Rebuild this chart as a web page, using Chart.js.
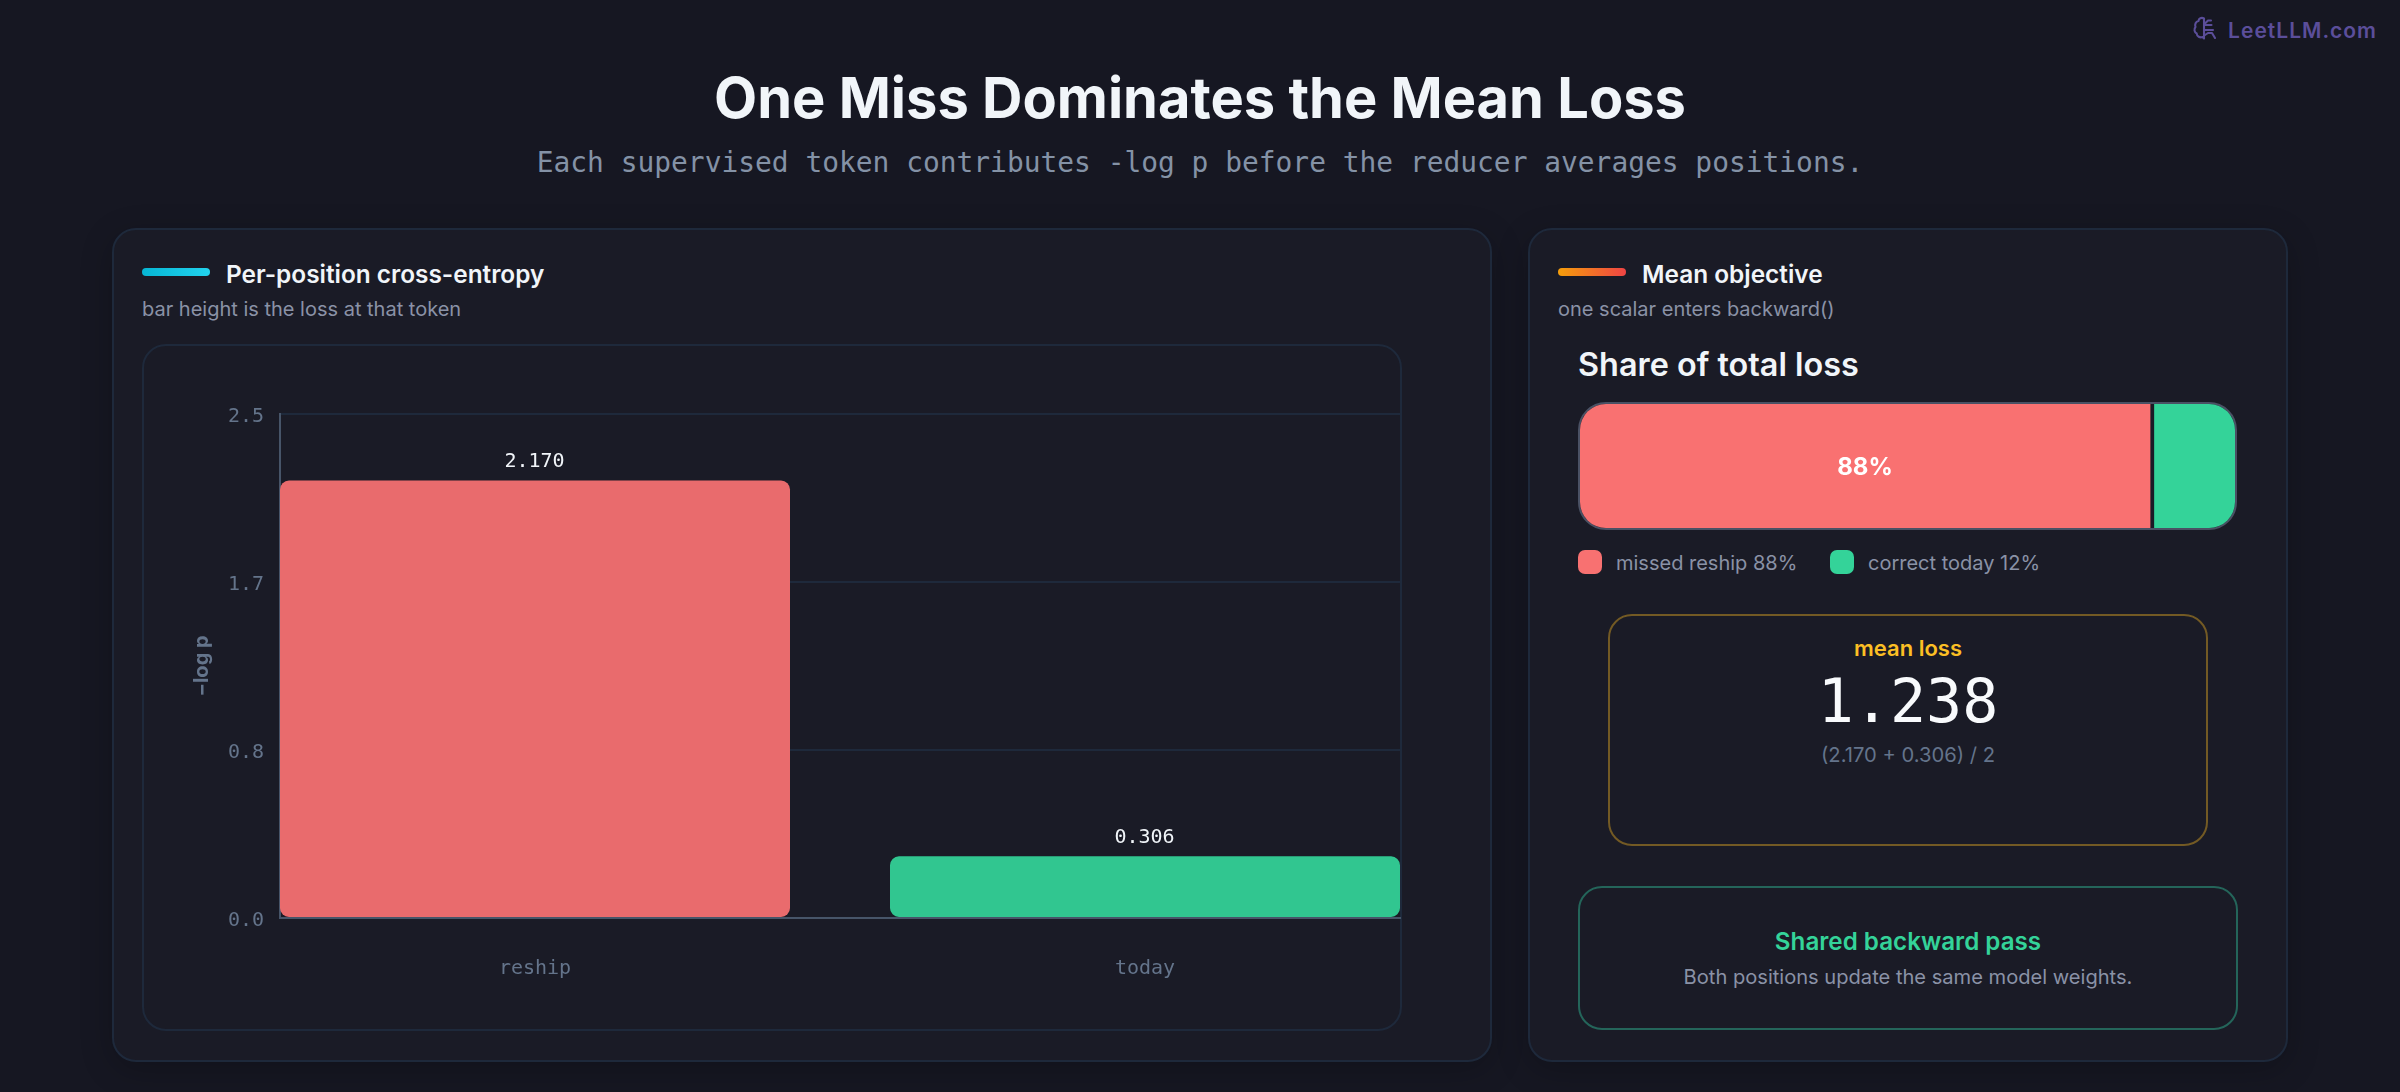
<!DOCTYPE html>
<html><head><meta charset="utf-8">
<script src="https://cdn.jsdelivr.net/npm/chart.js@4/dist/chart.umd.min.js"></script>
<style>
*{box-sizing:border-box;margin:0;padding:0}
html,body{width:2400px;height:1092px;overflow:hidden;background:#161722;font-family:Inter,sans-serif}
.t{position:absolute;white-space:nowrap;line-height:1;transform:translateY(-50%)}
.c{transform:translate(-50%,-50%)}
.box{position:absolute;border-radius:24px;background:#1a1b26;border:2px solid #1e293b}
.panel{box-shadow:0 8px 32px rgba(0,0,0,.22)}
.sw{position:absolute;height:8px;border-radius:4px}
.h{font-weight:600;font-size:24.4px;color:#f1f5f9}
.s{font-size:20px;color:#8a92a6}
canvas{position:absolute;display:block}
</style></head><body>
<svg style="position:absolute;left:2192px;top:16px" width="26" height="26" viewBox="0 0 26 26" fill="none" stroke="#5b4e9a" stroke-width="2.1" stroke-linecap="round" stroke-linejoin="round"><path d="M12 2.500c-2.500-1.500-5.500 0-5.500 2.500-2.800.6-4 3.500-3 6-1.800 2-1.200 5.500 1.200 6.500.2 3 3.300 4.500 5.800 3.500l1.500 1.500V2.500zM13 9h6.500M13 14h8M19 4.500h-3l-3 3M13 19l3-2h4l3 5"/></svg>
<div class="t" style="right:23px;top:30px;font-size:21px;font-weight:600;letter-spacing:1px;color:#5b4e9a">LeetLLM.com</div>
<div class="t c" style="left:1200px;top:98px;font-size:56px;font-weight:700;color:#f1f5f9">One Miss Dominates the Mean Loss</div>
<div class="t c" style="left:1200px;top:163px;font-family:'DejaVu Sans Mono',monospace;font-size:27.9px;color:#8492a6">Each supervised token contributes -log p before the reducer averages positions.</div>

<div class="box panel" style="left:112px;top:228px;width:1380px;height:834px"></div>
<div class="sw" style="left:142px;top:268px;width:68px;background:linear-gradient(90deg,#06b6d4,#22d3ee)"></div>
<div class="t h" style="left:226px;top:274px">Per-position cross-entropy</div>
<div class="t s" style="left:142px;top:309px">bar height is the loss at that token</div>
<div class="box" style="left:142px;top:344px;width:1260px;height:687px"></div>
<canvas id="bars" width="1258" height="685" style="left:143px;top:345px"></canvas>

<div class="box panel" style="left:1528px;top:228px;width:760px;height:834px"></div>
<div class="sw" style="left:1558px;top:268px;width:68px;background:linear-gradient(90deg,#f59e0b,#ef4444)"></div>
<div class="t h" style="left:1642px;top:274px">Mean objective</div>
<div class="t s" style="left:1558px;top:309px">one scalar enters backward()</div>
<div class="t" style="left:1578px;top:365px;font-size:32.4px;font-weight:600;color:#f1f5f9">Share of total loss</div>
<div style="position:absolute;left:1578px;top:402px;width:659px;height:128px;border:2px solid #4a5164;border-radius:28px;overflow:hidden"><canvas id="share" width="655" height="124" style="left:0;top:0"></canvas></div>
<div style="position:absolute;left:1578px;top:550px;width:24px;height:24px;border-radius:7px;background:#f87171"></div>
<div class="t s" style="left:1616px;top:563px">missed reship 88%</div>
<div style="position:absolute;left:1830px;top:550px;width:24px;height:24px;border-radius:7px;background:#34d399"></div>
<div class="t s" style="left:1868px;top:563px">correct today 12%</div>

<div class="box" style="left:1608px;top:614px;width:600px;height:232px;border-color:#735a24"></div>
<div class="t c" style="left:1908px;top:648px;font-size:22px;font-weight:600;color:#fbbf24">mean loss</div>
<div class="t c" style="left:1908px;top:701px;font-family:'DejaVu Sans Mono',monospace;font-size:60px;color:#f8fafc">1.238</div>
<div class="t c" style="left:1908px;top:755px;font-size:20.2px;color:#64748b">(2.170 + 0.306) / 2</div>

<div class="box" style="left:1578px;top:886px;width:660px;height:144px;border-color:#24655a"></div>
<div class="t c" style="left:1908px;top:942px;font-size:24.2px;font-weight:600;color:#34d399">Shared backward pass</div>
<div class="t c" style="left:1908px;top:977px;font-size:20.1px;color:#8a92a6">Both positions update the same model weights.</div>

<script>
const categories = ['reship', 'today'];
const losses = [2.170, 0.306];
const yTicks = [0, 2.5 / 3, 5 / 3, 2.5];
const shareNames = ['missed reship', 'correct today'];
const MONO = "'DejaVu Sans Mono', monospace";

const valueLabels = {
  id: 'valueLabels',
  afterDatasetsDraw(chart) {
    const { ctx } = chart;
    const meta = chart.getDatasetMeta(0);
    ctx.save();
    ctx.font = '20px ' + MONO;
    ctx.fillStyle = '#f1f5f9';
    ctx.textAlign = 'center';
    ctx.textBaseline = 'middle';
    meta.data.forEach((bar, i) => ctx.fillText(losses[i].toFixed(3), bar.x - 0.5, bar.y - 19));
    ctx.restore();
  }
};

new Chart(document.getElementById('bars'), {
  type: 'bar',
  data: {
    labels: categories,
    datasets: [{
      data: losses.map((y, x) => ({ x, y })),
      backgroundColor: ['#e96b6d', '#31c690'],
      borderRadius: 9,
      borderSkipped: false,
      barPercentage: 1,
      categoryPercentage: 510 / 610
    }]
  },
  plugins: [valueLabels],
  options: {
    responsive: false,
    animation: false,
    layout: { padding: { top: 69, right: 1, bottom: 0, left: 0 } },
    plugins: { legend: { display: false }, tooltip: { enabled: false } },
    scales: {
      x: {
        type: 'linear',
        offset: false,
        min: -255 / 610,
        max: 1 + 255 / 610,
        grid: { display: false, drawTicks: false },
        border: { color: '#475569', width: 2 },
        afterBuildTicks(s) { s.ticks = categories.map((_, i) => ({ value: i })); },
        afterFit(s) { s.height = 112; },
        ticks: {
          autoSkip: false, maxRotation: 0, padding: 39,
          color: '#64748b', font: { family: MONO, size: 20 },
          callback: v => categories[v]
        }
      },
      y: {
        min: 0,
        max: 2.5,
        grid: { color: '#1e293b', lineWidth: 2, drawTicks: false },
        border: { color: '#475569', width: 2 },
        afterBuildTicks(s) { s.ticks = yTicks.map(value => ({ value })); },
        afterFit(s) { s.width = 137; },
        afterUpdate(s) {
          const compute = s._computeLabelItems.bind(s);
          s._computeLabelItems = area => compute(area).map(item => ({
            ...item,
            options: { ...item.options, translation: [item.options.translation[0], item.options.translation[1] + 1.5] }
          }));
        },
        title: {
          display: true, text: '−log p', color: '#64748b',
          font: { family: 'Inter', size: 20, weight: '700' },
          padding: { top: 47, bottom: 0 }
        },
        ticks: {
          padding: 16, color: '#64748b', font: { family: MONO, size: 20 },
          callback: v => v.toFixed(1)
        }
      }
    }
  }
});

const shareLabel = {
  id: 'shareLabel',
  afterDatasetsDraw(chart) {
    const { ctx } = chart;
    const bar = chart.getDatasetMeta(0).data[0];
    const total = losses[0] + losses[1];
    ctx.save();
    ctx.font = '700 24px Inter';
    ctx.fillStyle = '#ffffff';
    ctx.textAlign = 'center';
    ctx.textBaseline = 'middle';
    ctx.fillText(Math.round(losses[0] / total * 100) + '%', (bar.base + bar.x - 4) / 2, bar.y + 2);
    ctx.restore();
  }
};

new Chart(document.getElementById('share'), {
  type: 'bar',
  data: {
    labels: ['share'],
    datasets: [
      { label: shareNames[0], data: [losses[0]], backgroundColor: '#f97171', borderColor: '#1a1b26', borderWidth: { right: 4, left: 0, top: 0, bottom: 0 }, borderSkipped: false, barPercentage: 1, categoryPercentage: 1 },
      { label: shareNames[1], data: [losses[1]], backgroundColor: '#34d399', barPercentage: 1, categoryPercentage: 1 }
    ]
  },
  plugins: [shareLabel],
  options: {
    indexAxis: 'y',
    responsive: false,
    animation: false,
    plugins: { legend: { display: false }, tooltip: { enabled: false } },
    scales: {
      x: { stacked: true, display: false, min: 0, max: losses[0] + losses[1] },
      y: { stacked: true, display: false }
    }
  }
});
</script>
</body></html>
